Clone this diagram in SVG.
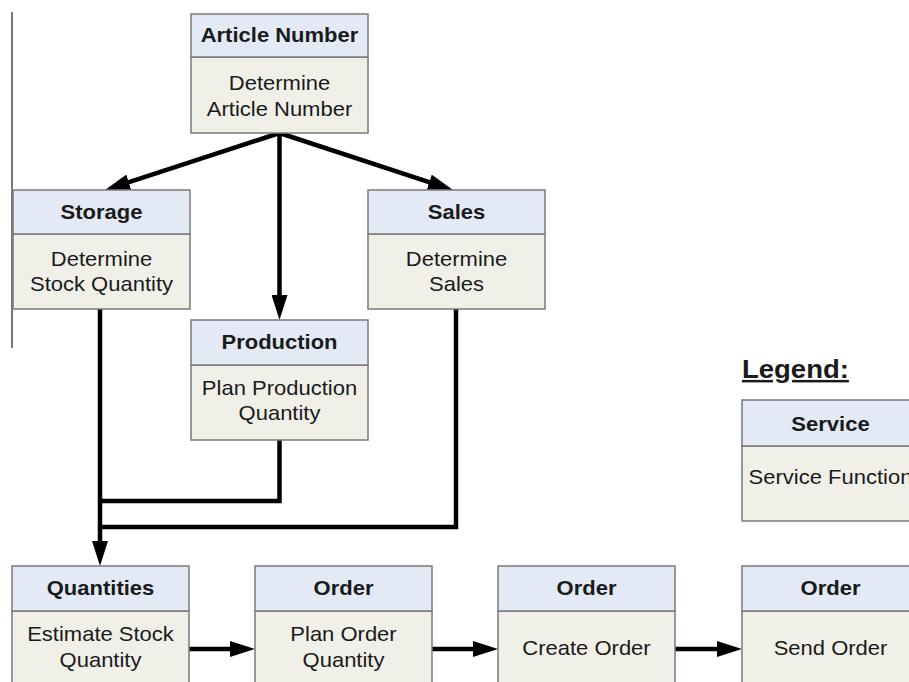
<svg xmlns="http://www.w3.org/2000/svg" width="909" height="682" viewBox="0 0 909 682">
<style>
.hd{fill:#e3e9f5;stroke:#7a7a7a;stroke-width:1.5}
.bd{fill:#f0f0e9;stroke:#7a7a7a;stroke-width:1.5}
text{font-family:"Liberation Sans",Arial,sans-serif;font-size:20px;fill:#1a1a1a;text-anchor:middle}
.b{font-weight:bold}
.c{fill:none;stroke:#000;stroke-width:4.5;stroke-linejoin:miter}
</style>
<defs>
<marker id="ah" markerUnits="userSpaceOnUse" markerWidth="25" markerHeight="16" viewBox="0 0 25 16" refX="15" refY="8" orient="auto">
<path d="M0,0 L25,8 L0,16 z" fill="#000"/>
</marker>
</defs>
<rect width="909" height="682" fill="#fff"/>
<line x1="12" y1="12" x2="12" y2="348" stroke="#777" stroke-width="2"/>

<g id="connectors">
<path class="c" d="M279.5,133 L279.5,310" marker-end="url(#ah)"/>
<path class="c" d="M279.5,133 L114.5,186.9" marker-end="url(#ah)"/>
<path class="c" d="M279.5,133 L443.5,186.9" marker-end="url(#ah)"/>
<path class="c" d="M100,309 L100,556" marker-end="url(#ah)"/>
<path class="c" d="M279.5,440 L279.5,501 L100,501"/>
<path class="c" d="M456,309 L456,527 L100,527"/>
<path class="c" d="M188,649 L245,649" marker-end="url(#ah)"/>
<path class="c" d="M432,649 L488,649" marker-end="url(#ah)"/>
<path class="c" d="M675,649 L732,649" marker-end="url(#ah)"/>
</g>

<g id="article">
<rect class="bd" x="191" y="57" width="177" height="76"/>
<rect class="hd" x="191" y="14" width="177" height="43"/>
<text class="b" transform="translate(279.5,42) scale(1.1,1)">Article Number</text>
<text transform="translate(279.5,90) scale(1.1,1)">Determine</text>
<text transform="translate(279.5,116) scale(1.1,1)">Article Number</text>
</g>

<g id="storage">
<rect class="bd" x="13" y="234" width="177" height="75"/>
<rect class="hd" x="13" y="190" width="177" height="44"/>
<text class="b" transform="translate(101.5,219) scale(1.1,1)">Storage</text>
<text transform="translate(101.5,266) scale(1.1,1)">Determine</text>
<text transform="translate(101.5,291) scale(1.1,1)">Stock Quantity</text>
</g>

<g id="sales">
<rect class="bd" x="368" y="234" width="177" height="75"/>
<rect class="hd" x="368" y="190" width="177" height="44"/>
<text class="b" transform="translate(456.5,219) scale(1.1,1)">Sales</text>
<text transform="translate(456.5,266) scale(1.1,1)">Determine</text>
<text transform="translate(456.5,291) scale(1.1,1)">Sales</text>
</g>

<g id="production">
<rect class="bd" x="191" y="365" width="177" height="75"/>
<rect class="hd" x="191" y="320" width="177" height="45"/>
<text class="b" transform="translate(279.5,349) scale(1.1,1)">Production</text>
<text transform="translate(279.5,395) scale(1.1,1)">Plan Production</text>
<text transform="translate(279.5,420) scale(1.1,1)">Quantity</text>
</g>

<g id="legend">
<text class="b" text-decoration="underline" style="font-size:25px;text-anchor:start" transform="translate(742,378) scale(1.1,1)">Legend:</text>
</g>

<g id="service">
<rect class="bd" x="742" y="446" width="177" height="75"/>
<rect class="hd" x="742" y="400" width="177" height="46"/>
<text class="b" transform="translate(830.5,431) scale(1.1,1)">Service</text>
<text transform="translate(830.5,484) scale(1.1,1)">Service Function</text>
</g>

<g id="quantities">
<rect class="bd" x="12" y="611" width="177" height="75"/>
<rect class="hd" x="12" y="566" width="177" height="45"/>
<text class="b" transform="translate(100.5,595) scale(1.1,1)">Quantities</text>
<text transform="translate(100.5,641) scale(1.1,1)">Estimate Stock</text>
<text transform="translate(100.5,667) scale(1.1,1)">Quantity</text>
</g>

<g id="order1">
<rect class="bd" x="255" y="611" width="177" height="75"/>
<rect class="hd" x="255" y="566" width="177" height="45"/>
<text class="b" transform="translate(343.5,595) scale(1.1,1)">Order</text>
<text transform="translate(343.5,641) scale(1.1,1)">Plan Order</text>
<text transform="translate(343.5,667) scale(1.1,1)">Quantity</text>
</g>

<g id="order2">
<rect class="bd" x="498" y="611" width="177" height="75"/>
<rect class="hd" x="498" y="566" width="177" height="45"/>
<text class="b" transform="translate(586.5,595) scale(1.1,1)">Order</text>
<text transform="translate(586.5,655) scale(1.1,1)">Create Order</text>
</g>

<g id="order3">
<rect class="bd" x="742" y="611" width="177" height="75"/>
<rect class="hd" x="742" y="566" width="177" height="45"/>
<text class="b" transform="translate(830.5,595) scale(1.1,1)">Order</text>
<text transform="translate(830.5,655) scale(1.1,1)">Send Order</text>
</g>
</svg>
